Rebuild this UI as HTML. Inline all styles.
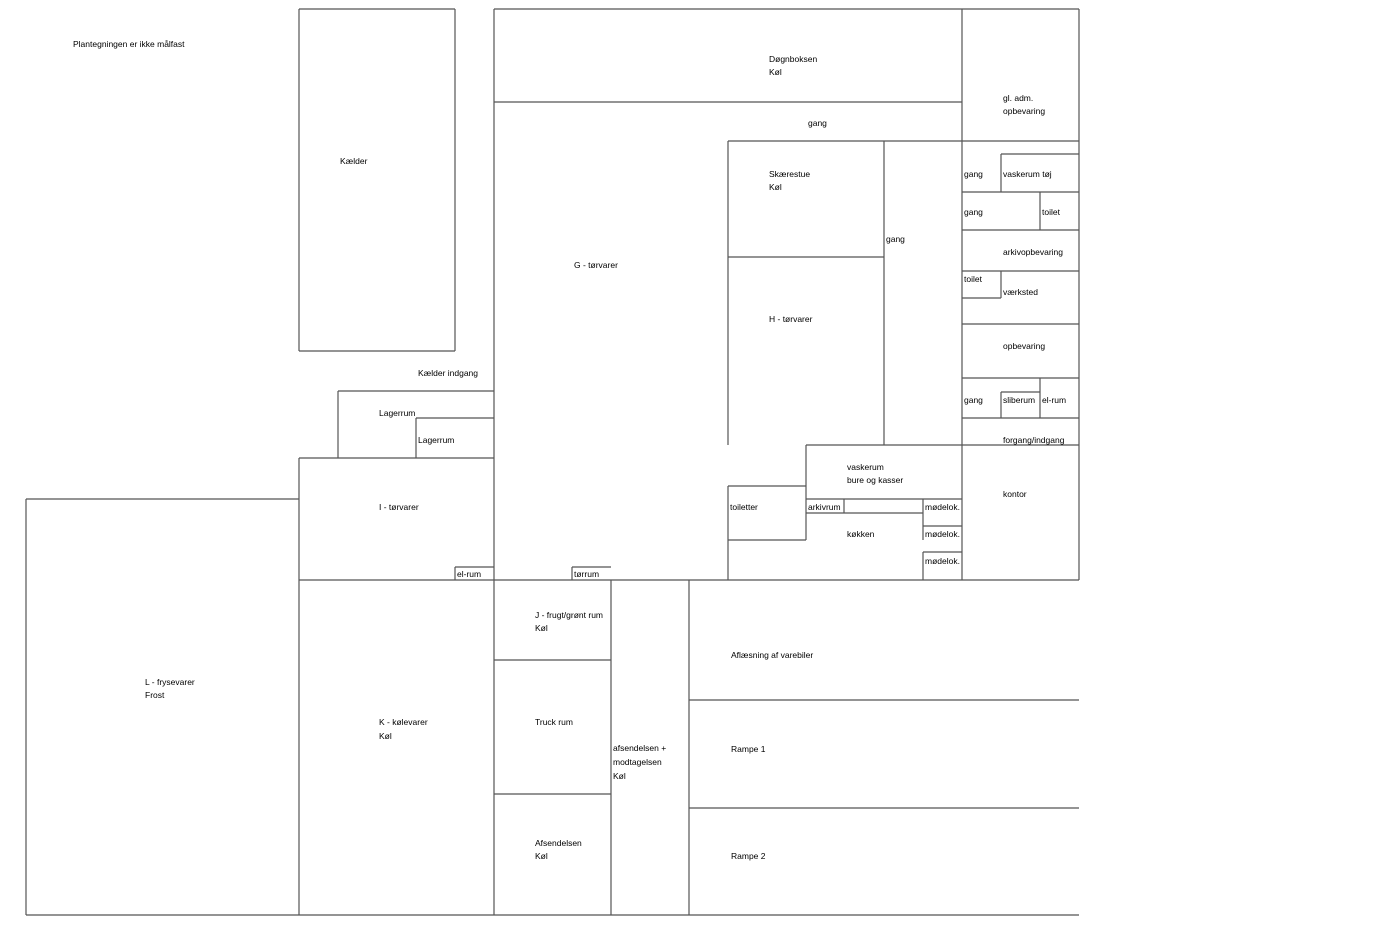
<!DOCTYPE html>
<html><head><meta charset="utf-8"><style>
html,body{margin:0;padding:0;background:#fff;}
svg{display:block;}
text{font-family:"Liberation Sans",sans-serif;font-size:8.5px;fill:#000;}
line{stroke:#555;stroke-width:1.2;}
</style></head><body>
<svg width="1400" height="933" viewBox="0 0 1400 933" xmlns="http://www.w3.org/2000/svg">
<g>
<!-- Kælder -->
<line x1="299" y1="9" x2="455" y2="9"/><line x1="299" y1="9" x2="299" y2="351"/><line x1="455" y1="9" x2="455" y2="351"/><line x1="299" y1="351" x2="455" y2="351"/>
<!-- Døgnboksen -->
<line x1="494" y1="9" x2="1079" y2="9"/><line x1="494" y1="9" x2="494" y2="915"/><line x1="1079" y1="9" x2="1079" y2="580"/><line x1="494" y1="102" x2="962" y2="102"/>
<line x1="962" y1="9" x2="962" y2="580"/>
<line x1="728" y1="141" x2="1079" y2="141"/>
<line x1="728" y1="141" x2="728" y2="445"/><line x1="884" y1="141" x2="884" y2="445"/>
<line x1="728" y1="257" x2="884" y2="257"/>
<!-- right column -->
<line x1="1001" y1="154" x2="1079" y2="154"/><line x1="1001" y1="154" x2="1001" y2="192"/>
<line x1="962" y1="192" x2="1079" y2="192"/><line x1="1040" y1="192" x2="1040" y2="230"/>
<line x1="962" y1="230" x2="1079" y2="230"/>
<line x1="962" y1="271" x2="1079" y2="271"/><line x1="1001" y1="271" x2="1001" y2="298"/><line x1="962" y1="298" x2="1001" y2="298"/>
<line x1="962" y1="324" x2="1079" y2="324"/>
<line x1="962" y1="378" x2="1079" y2="378"/><line x1="1001" y1="392" x2="1040" y2="392"/><line x1="1001" y1="392" x2="1001" y2="418"/><line x1="1040" y1="378" x2="1040" y2="418"/>
<line x1="962" y1="418" x2="1079" y2="418"/>
<line x1="962" y1="445" x2="1079" y2="445"/>
<!-- vaskerum etc -->
<line x1="806" y1="445" x2="962" y2="445"/><line x1="806" y1="445" x2="806" y2="540"/>
<line x1="728" y1="486" x2="806" y2="486"/><line x1="728" y1="486" x2="728" y2="580"/><line x1="728" y1="540" x2="806" y2="540"/>
<line x1="806" y1="499" x2="962" y2="499"/><line x1="806" y1="513" x2="923" y2="513"/><line x1="844" y1="499" x2="844" y2="513"/>
<line x1="923" y1="499" x2="923" y2="540"/><line x1="923" y1="526" x2="962" y2="526"/>
<line x1="923" y1="552" x2="962" y2="552"/><line x1="923" y1="552" x2="923" y2="580"/>
<!-- left middle -->
<line x1="338" y1="391" x2="494" y2="391"/><line x1="338" y1="391" x2="338" y2="458"/>
<line x1="416" y1="418" x2="494" y2="418"/><line x1="416" y1="418" x2="416" y2="458"/>
<line x1="299" y1="458" x2="494" y2="458"/><line x1="299" y1="458" x2="299" y2="915"/>
<line x1="455" y1="567" x2="494" y2="567"/><line x1="455" y1="567" x2="455" y2="580"/>
<line x1="572" y1="567" x2="611" y2="567"/><line x1="572" y1="567" x2="572" y2="580"/>
<line x1="299" y1="580" x2="1079" y2="580"/>
<!-- L -->
<line x1="26" y1="499" x2="299" y2="499"/><line x1="26" y1="499" x2="26" y2="915"/>
<line x1="26" y1="915" x2="1079" y2="915"/>
<!-- bottom -->
<line x1="494" y1="660" x2="611" y2="660"/><line x1="494" y1="794" x2="611" y2="794"/>
<line x1="611" y1="580" x2="611" y2="915"/><line x1="689" y1="580" x2="689" y2="915"/>
<line x1="689" y1="700" x2="1079" y2="700"/><line x1="689" y1="808" x2="1079" y2="808"/>
</g>
<g>
<text x="73" y="47">Plantegningen er ikke målfast</text>
<text x="340" y="164">Kælder</text>
<text x="769" y="62">Døgnboksen</text><text x="769" y="75">Køl</text>
<text x="808" y="126">gang</text>
<text x="1003" y="101">gl. adm.</text><text x="1003" y="114">opbevaring</text>
<text x="574" y="268">G - tørvarer</text>
<text x="769" y="177">Skærestue</text><text x="769" y="190">Køl</text>
<text x="886" y="242">gang</text>
<text x="769" y="322">H - tørvarer</text>
<text x="964" y="177">gang</text><text x="1003" y="177">vaskerum tøj</text>
<text x="964" y="215">gang</text><text x="1042" y="215">toilet</text>
<text x="1003" y="255">arkivopbevaring</text>
<text x="964" y="282">toilet</text><text x="1003" y="295">værksted</text>
<text x="1003" y="349">opbevaring</text>
<text x="964" y="403">gang</text><text x="1003" y="403">sliberum</text><text x="1042" y="403">el-rum</text>
<text x="1003" y="443">forgang/indgang</text>
<text x="1003" y="497">kontor</text>
<text x="847" y="470">vaskerum</text><text x="847" y="483">bure og kasser</text>
<text x="730" y="510">toiletter</text>
<text x="808" y="510">arkivrum</text>
<text x="925" y="510">mødelok.</text>
<text x="925" y="537">mødelok.</text>
<text x="925" y="564">mødelok.</text>
<text x="847" y="537">køkken</text>
<text x="418" y="376">Kælder indgang</text>
<text x="379" y="416">Lagerrum</text>
<text x="418" y="443">Lagerrum</text>
<text x="379" y="510">I - tørvarer</text>
<text x="457" y="577">el-rum</text>
<text x="574" y="577">tørrum</text>
<text x="145" y="685">L - frysevarer</text><text x="145" y="698">Frost</text>
<text x="379" y="725">K - kølevarer</text><text x="379" y="739">Køl</text>
<text x="535" y="618">J - frugt/grønt rum</text><text x="535" y="631">Køl</text>
<text x="535" y="725">Truck rum</text>
<text x="535" y="846">Afsendelsen</text><text x="535" y="859">Køl</text>
<text x="613" y="751">afsendelsen +</text><text x="613" y="765">modtagelsen</text><text x="613" y="779">Køl</text>
<text x="731" y="658">Aflæsning af varebiler</text>
<text x="731" y="752">Rampe 1</text>
<text x="731" y="859">Rampe 2</text>
</g>
</svg>
</body></html>
